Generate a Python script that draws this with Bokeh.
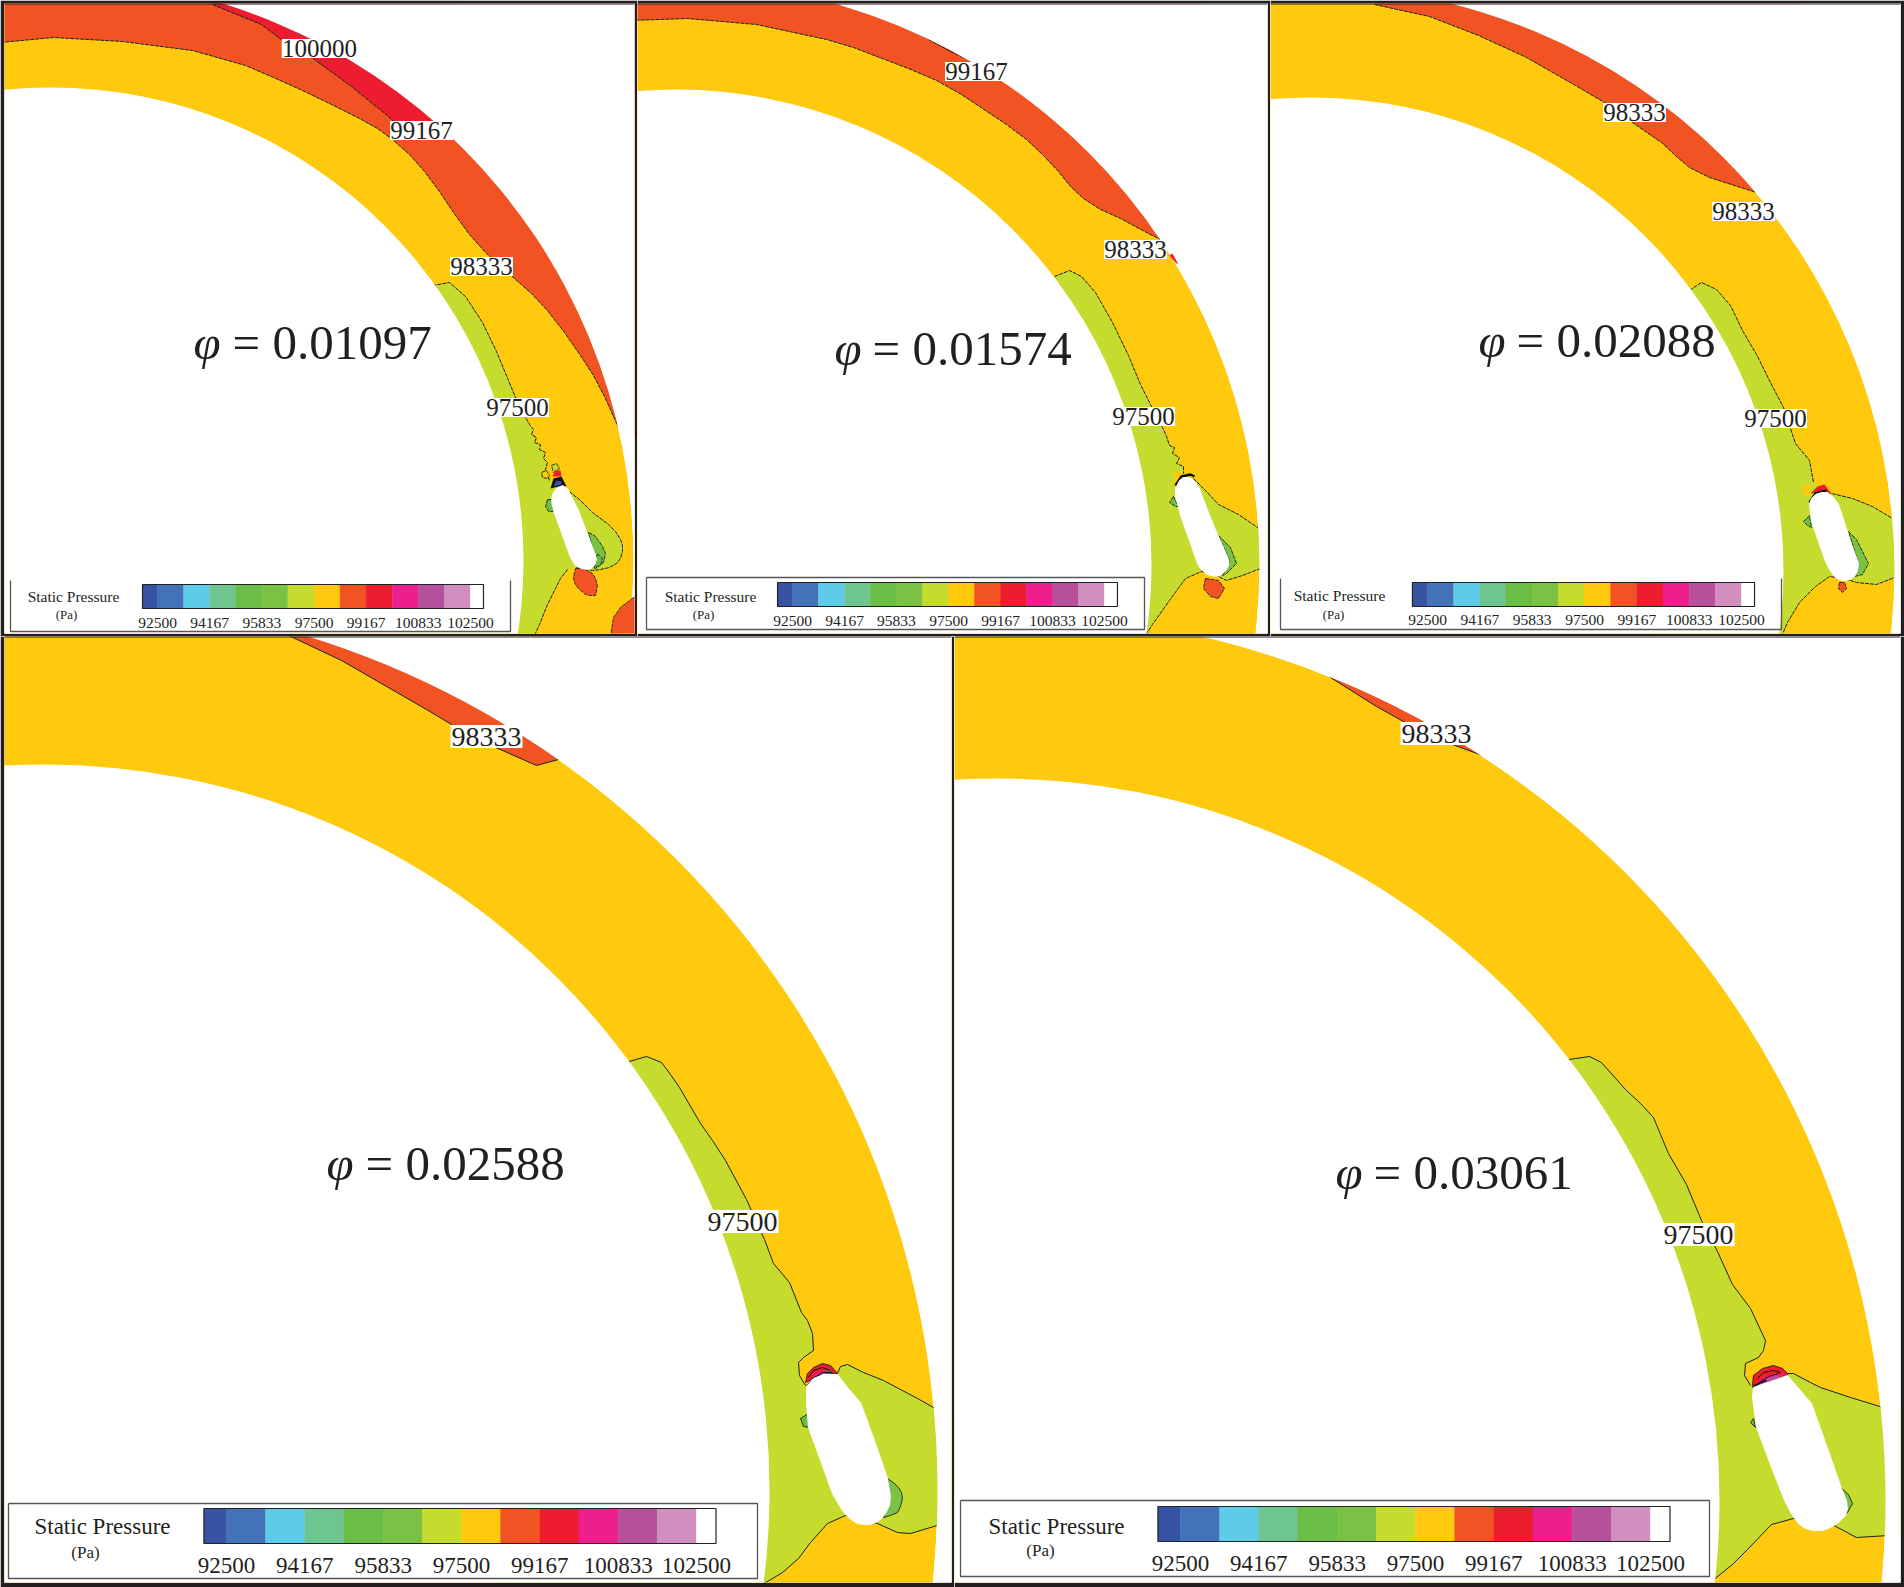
from bokeh.plotting import figure
from bokeh.layouts import column, row
from bokeh.embed import file_html
from bokeh.resources import INLINE
from bokeh.core.properties import value
from bokeh.models import Range1d

# ---------- colour bar ----------
LEVELS = [92021, 92500, 93333, 94167, 95000, 95833, 96667, 97500, 98333,
          99167, 100000, 100833, 101667, 102500, 102915]
BAND_COLORS = ["#3853A4", "#4472B8", "#5ECBE8", "#6FC58F", "#6ABD45", "#7BC143", "#C5DB2E",
               "#FFC90D", "#F15323", "#ED1C2E", "#ED1F8F", "#B64F9C", "#D18FC0", "#FFFFFF"]
TICK_LEVELS = [92500, 94167, 95833, 97500, 99167, 100833, 102500]
TICK_LABELS = ["92500", "94167", "95833", "97500", "99167", "100833", "102500"]

YELLOW, GREEN, ORANGE, RED, MAGENTA, PURPLE = "#FFC90D", "#C5DB2E", "#F15323", "#ED1C2E", "#ED1F8F", "#B64F9C"
MIDGREEN, DARKGREEN, INK = "#7BC143", "#6ABD45", "#231F20"

# ---------- panel 1 : phi = 0.01097 ----------
P1_PHI = "= 0.01097"
P1_RING = (50, 560, 473, 583)
P1_ORANGE_LINE = [(0,42),(53,37),(122,41),(192,50),(245,65),(273,77),(302,90),(331,104),(359,118),(377,128),(392,139),(409,154),(424,171),(439,191),(453,212),(469,234),(486,253),(500,266),(514,278),(531,293),(547,310),(564,332),(580,355),(593,375),(604,396),(618,427),(622,436)]
P1_ORANGE_CLOSE = [(700,436),(700,-10),(0,-10)]
P1_RED_LINE = [(212,4),(261,24),(286,43),(314,59),(351,86),(388,116),(398,126)]
P1_RED_CLOSE = [(460,126),(460,-10),(212,-10)]
P1_G_TOP = [(432,285),(449,282),(465,296),(482,322),(496,351),(508,380),(518,404),(529,424),(533,429),(531,434),(536,437),(534,442),(540,444),(539,449),(545,452),(543,458),(547,462),(545,469),(549,480)]
P1_G_RIGHT = [(565,488),(580,500),(592,512),(608,524),(615,531),(620,539),(622,545),(622,551),(620,558),(616,563),(609,567),(600,569),(592,570),(584,569),(576,567)]
P1_G_OUT = []
P1_G_BOTTOM = [(567,569),(560,578),(555,588),(547,604),(539,624),(533,637)]
P1_G_CLOSE = [(400,640),(400,285)]
P1_CAPSULE = [(551,501),(552,494),(556,488),(562,485),(567,488),(572,498),(578,510),(586,531),(594,552),(596,558),(595,563),(592,567),(588,569),(581,568),(575,565),(570,557),(561,532),(553,510)]
P1_PATCHES = [
    (ORANGE, [(575,568),(583,568),(592,573),(595,578),(597,585),(595,595),(590,595),(585,594),(577,587),(574,582),(573,577)], True),
    (ORANGE, [(633,597),(620,607),(613,617),(610,636),(640,636),(640,595)], True),
    (MIDGREEN, [(588,532),(594,535),(598,540),(602,546),(605,553),(603,562),(595,568),(592,567),(594,555)], True),
    (DARKGREEN, [(597,553),(602,558),(600,565),(594,567)], True),
    (DARKGREEN, [(547,499),(545,506),(548,511),(553,511),(551,499)], True),
    (YELLOW, [(541,472),(546,470),(549,475),(547,478),(542,477)], True),
    (GREEN, [(551,465),(556,463),(559,468),(553,472)], True),
    ("#111111", [(550,488),(553,478),(561,476),(566,486),(558,486)], False),
    (RED, [(552,476),(555,470),(560,470),(561,476)], False),
    ("#3853A4", [(553,486),(556,480),(561,481),(561,484)], False),
]
P1_LABELS = [("100000",319,48),("99167",421,130),("98333",481,266),("97500",517,407)]
P1_TEXT_POS = (193, 232, 342)
P1_LEGEND = dict(tx0=157, tx1=470, top=584, bot=608, fx0=10, fx1=510, fy0=580, fy1=631, open_top=True,
                 lab_y=622, fs=15.5, title=(73,596), unit=(66,614), tsz=15.5, usz=13)

# ---------- panel 2 : phi = 0.01574 ----------
P2_PHI = "= 0.01574"
P2_RING = (675, 565, 476, 584)
P2_ORANGE_LINE = [(630,20),(687,18),(756,24),(826,39),(853,47),(879,57),(908,68),(936,80),(961,94),(985,110),(1006,124),(1026,139),(1043,155),(1058,171),(1070,186),(1083,198),(1100,209),(1120,218),(1148,233),(1162,240)]
P2_ORANGE_CLOSE = [(1200,240),(1200,-10),(630,-10)]
P2_RED_LINE = [(928,39),(950,51),(965,58),(975,65)]
P2_RED_CLOSE = [(990,65),(990,39)]
P2_G_TOP = [(1054,276),(1069,270),(1081,276),(1095,292),(1112,322),(1128,355),(1140,384),(1150,404),(1163,429),(1166,436),(1169,445),(1174,447),(1172,453),(1179,457),(1176,463),(1183,466),(1183,473)]
P2_G_RIGHT = [(1193,478),(1205,490),(1218,504),(1238,514),(1260,529)]
P2_G_OUT = [(1300,529),(1300,568)]
P2_G_BOTTOM = [(1260,568),(1242,575),(1226,580),(1218,576),(1201,571),(1185,578),(1169,600),(1152,624),(1144,636)]
P2_G_CLOSE = [(1000,640),(1000,276)]
P2_CAPSULE = [(1175,496),(1175,488),(1179,480),(1183,477),(1187,477),(1191,478),(1195,482),(1199,488),(1206,507),(1214,527),(1228,559),(1228,565),(1226,569),(1221,574),(1216,576),(1210,575),(1205,573),(1200,568),(1197,563),(1189,540),(1181,518)]
P2_PATCHES = [
    (ORANGE, [(1205,578),(1218,580),(1224,588),(1218,598),(1210,596),(1203,588)], True),
    (MIDGREEN, [(1218,535),(1230,547),(1236,563),(1226,573),(1222,575),(1229,560)], True),
    (DARKGREEN, [(1173,496),(1169,502),(1175,506),(1178,506)], True),
    (YELLOW, [(1173,472),(1183,470),(1180,478),(1174,484)], False),
    (RED, [(1169,255),(1172,253),(1178,264),(1175,262)], False),
]
P2_LABELS = [("99167",976,71),("98333",1135,249),("97500",1143,416)]
P2_TEXT_POS = (834, 872, 348)
P2_LEGEND = dict(tx0=792, tx1=1104, top=582, bot=606, fx0=646, fx1=1144, fy0=577, fy1=629, open_top=False,
                 lab_y=620, fs=15.5, title=(710,596), unit=(703,614), tsz=15.5, usz=13)
P2_HEAD_LINES = [([(1175,485),(1181,476),(1190,474),(1194,476)], 2.5)]

# ---------- panel 3 : phi = 0.02088 ----------
P3_PHI = "= 0.02088"
P3_RING = (1310, 570, 473, 584)
P3_ORANGE_LINE = [(1374,4),(1429,16),(1478,35),(1526,57),(1575,85),(1604,102),(1632,122),(1661,142),(1676,156),(1689,167),(1709,177),(1734,185),(1756,192)]
P3_ORANGE_CLOSE = [(1800,192),(1800,-10),(1374,-10)]
P3_G_TOP = [(1689,290),(1701,282),(1716,289),(1730,305),(1742,330),(1756,354),(1770,382),(1783,407),(1795,443),(1809,460),(1813,482)]
P3_G_RIGHT = [(1827,492),(1852,498),(1872,506),(1897,521)]
P3_G_OUT = [(1950,521),(1950,576)]
P3_G_BOTTOM = [(1897,576),(1876,584),(1856,582),(1844,578),(1829,576),(1815,586),(1799,602),(1787,622),(1781,636)]
P3_G_CLOSE = [(1650,640),(1650,290)]
P3_CAPSULE = [(1809,504),(1811,498),(1815,494),(1821,492),(1827,492),(1833,497),(1838,504),(1844,522),(1850,541),(1858,563),(1857,570),(1854,576),(1849,579),(1844,580),(1838,579),(1834,576),(1829,569),(1825,561),(1818,541),(1811,521)]
P3_PATCHES = [
    (MIDGREEN, [(1848,531),(1856,539),(1868,563),(1862,574),(1854,576),(1858,563)], True),
    (DARKGREEN, [(1803,521),(1809,515),(1811,527),(1807,525)], True),
    (ORANGE, [(1839,582),(1844,582),(1846,588),(1842,592),(1838,588)], True),
    (YELLOW, [(1803,484),(1810,484),(1812,490),(1808,497),(1802,492)], False),
    (RED, [(1810,493),(1817,486),(1824,484),(1830,492),(1818,492)], False),
]
P3_LABELS = [("98333",1634,112),("98333",1743,211),("97500",1775,418)]
P3_TEXT_POS = (1478, 1516, 340)
P3_LEGEND = dict(tx0=1427, tx1=1741, top=582, bot=606, fx0=1280, fx1=1781, fy0=578, fy1=629, open_top=True,
                 lab_y=619, fs=15.5, title=(1339,595), unit=(1333,614), tsz=15.5, usz=13)
P3_HEAD_LINES = [([(1809,502),(1815,493),(1826,490)], 2.5)]

# ---------- panel 4 : phi = 0.02588 ----------
P4_PHI = "= 0.02588"
P4_RING = (43, 1490, 726, 894)
P4_ORANGE_LINE = [(286,634),(341,660),(426,709),(451,724),(493,746),(536,765),(558,759)]
P4_ORANGE_CLOSE = [(600,759),(600,600),(286,600)]
P4_G_TOP = [(625,1062),(646,1056),(661,1062),(670,1074),(679,1087),(700,1123),(712,1140),(725,1160),(746,1199),(764,1239),(773,1263),(789,1282),(801,1312),(807,1320),(812,1333),(813,1350),(803,1357),(798,1362),(799,1375),(805,1385)]
P4_G_RIGHT = [(837,1373),(840,1366),(847,1364),(863,1372),(883,1380),(917,1398),(940,1411)]
P4_G_OUT = [(1000,1411),(1000,1524)]
P4_G_BOTTOM = [(940,1524),(910,1533),(897,1532),(877,1523),(845,1515),(827,1523),(810,1542),(798,1558),(782,1572),(762,1584)]
P4_G_CLOSE = [(500,1590),(500,1062)]
P4_CAPSULE = [(806,1386),(813,1378),(823,1374),(837,1374),(847,1387),(860,1402),(874,1440),(887,1478),(890,1495),(889,1505),(885,1513),(880,1519),(875,1522),(869,1524),(863,1524),(857,1523),(852,1520),(847,1516),(842,1510),(837,1502),(832,1493),(820,1460),(808,1427),(806,1403)]
P4_PATCHES = [
    (MIDGREEN, [(887,1478),(894,1483),(898,1487),(901,1492),(902,1498),(900,1506),(897,1512),(890,1515),(883,1517),(890,1495)], True),
    (DARKGREEN, [(808,1413),(800,1418),(803,1426),(809,1427)], True),
    (RED, [(805,1382),(807,1373),(813,1367),(822,1363),(830,1365),(837,1373),(823,1374),(813,1378)], True),
    (MAGENTA, [(810,1380),(815,1373),(825,1370),(835,1372),(823,1374),(813,1378)], False),
    (PURPLE, [(807,1385),(813,1378),(823,1374),(830,1373),(818,1373),(810,1379)], False),
]
P4_LABELS = [("98333",486,736),("97500",742,1221)]
P4_TEXT_POS = (326, 365, 1163)
P4_LEGEND = dict(tx0=226, tx1=696, top=1508, bot=1543, fx0=8, fx1=757, fy0=1503, fy1=1578, open_top=False,
                 lab_y=1565, fs=23, title=(102,1526), unit=(85,1552), tsz=23, usz=17)
P4_HEAD_LINES = [([(808,1377),(813,1370),(822,1367),(830,1370)], 1), ([(812,1378),(822,1372),(832,1372)], 1),
                 ([(806,1386),(813,1378),(820,1375)], 1.8)]

# ---------- panel 5 : phi = 0.03061 ----------
P5_PHI = "= 0.03061"
P5_RING = (997, 1500, 722, 888)
P5_ORANGE_LINE = [(1330,677),(1376,706),(1403,721),(1452,744),(1482,755)]
P5_ORANGE_CLOSE = [(1500,750),(1400,640),(1330,640)]
P5_G_TOP = [(1568,1059),(1589,1056),(1601,1062),(1625,1089),(1640,1103),(1653,1117),(1660,1134),(1668,1153),(1686,1184),(1701,1220),(1717,1251),(1732,1284),(1750,1308),(1765,1340),(1763,1350),(1758,1357),(1745,1363),(1744,1375),(1750,1385)]
P5_G_RIGHT = [(1787,1373),(1793,1373),(1810,1382),(1820,1387),(1850,1397),(1886,1408)]
P5_G_OUT = [(1950,1408),(1950,1535)]
P5_G_BOTTOM = [(1888,1535),(1856,1537),(1826,1521),(1793,1518),(1771,1524),(1747,1549),(1732,1564),(1712,1580)]
P5_G_CLOSE = [(1400,1590),(1400,1059)]
P5_CAPSULE = [(1753,1387),(1770,1381),(1787,1375),(1811,1403),(1826,1445),(1841,1488),(1846,1500),(1847,1508),(1845,1515),(1838,1522),(1830,1527),(1822,1530),(1813,1530),(1805,1528),(1799,1524),(1792,1515),(1784,1500),(1770,1464),(1756,1427),(1752,1397)]
P5_PATCHES = [
    (MIDGREEN, [(1840,1487),(1848,1494),(1852,1503),(1847,1512),(1837,1521),(1847,1506)], True),
    (DARKGREEN, [(1753,1418),(1750,1422),(1755,1427)], True),
    (RED, [(1752,1385),(1753,1375),(1762,1368),(1773,1365),(1782,1368),(1787,1373),(1787,1375),(1770,1381)], True),
    (MAGENTA, [(1755,1384),(1762,1378),(1773,1374),(1785,1373),(1770,1381)], False),
    (PURPLE, [(1754,1386),(1763,1380),(1775,1375),(1780,1376),(1770,1381)], False),
]
P5_LABELS = [("98333",1436,733),("97500",1698,1234)]
P5_TEXT_POS = (1335, 1373, 1172)
P5_LEGEND = dict(tx0=1180, tx1=1650, top=1506, bot=1541, fx0=960, fx1=1709, fy0=1500, fy1=1576, open_top=False,
                 lab_y=1563, fs=23, title=(1056,1526), unit=(1040,1550), tsz=23, usz=17)
P5_HEAD_LINES = [([(1757,1378),(1763,1372),(1773,1370),(1780,1372)], 1), ([(1760,1381),(1768,1376),(1778,1373)], 1),
                 ([(1752,1387),(1760,1382),(1766,1380)], 1.8)]

SERIF = value("Liberation Serif")
BORDER = "#231F20"


def xs(pts):
    return [q[0] for q in pts]


def ys(pts):
    return [q[1] for q in pts]


def contour(p, pts, dash, width=1.0):
    if pts:
        p.line(xs(pts), ys(pts), line_color="#17231c", line_width=width, line_dash=dash)


def legend(p, L):
    scale = (L["tx1"] - L["tx0"]) / (TICK_LEVELS[-1] - TICK_LEVELS[0])
    pos = lambda v: L["tx0"] + (v - TICK_LEVELS[0]) * scale
    edges = [pos(v) for v in LEVELS]
    fr = [(L["fx0"], L["fy1"]), (L["fx1"], L["fy1"]), (L["fx1"], L["fy0"])]
    if L["open_top"]:
        fr = [(L["fx0"], L["fy0"])] + fr
    else:
        fr = [(L["fx0"], L["fy0"])] + fr + [(L["fx0"], L["fy0"])]
    p.line(xs(fr), ys(fr), line_color="#555555", line_width=1.3)
    p.quad(left=edges[:-1], right=edges[1:], top=[L["top"]] * 14, bottom=[L["bot"]] * 14,
           fill_color=BAND_COLORS, line_color=BAND_COLORS, line_width=0.5)
    p.quad(left=[edges[0]], right=[edges[-1]], top=[L["top"]], bottom=[L["bot"]],
           fill_alpha=0, line_color="#222222", line_width=1.2)
    p.text([pos(v) for v in TICK_LEVELS], [L["lab_y"]] * 7, text=TICK_LABELS, text_font=SERIF,
           text_font_size=f'{L["fs"]}px', text_align="center", text_baseline="middle", text_color=INK)
    p.text([L["title"][0]], [L["title"][1]], text=["Static Pressure"], text_font=SERIF,
           text_font_size=f'{L["tsz"]}px', text_align="center", text_baseline="middle", text_color=INK)
    p.text([L["unit"][0]], [L["unit"][1]], text=["(Pa)"], text_font=SERIF,
           text_font_size=f'{L["usz"]}px', text_align="center", text_baseline="middle", text_color=INK)


def panel(x0, x1, y0, y1, left, right, top, bottom, ring, orange, orange_close, red, red_close, g_top, g_right, g_out,
          g_bottom, g_close, capsule, patches, labels, text_pos, phi, leg, head_lines, dash, lab_fs, lab_w, lab_h):
    p = figure(width=x1 - x0 + left + right, height=y1 - y0 + top + bottom,
               x_range=Range1d(x0, x1), y_range=Range1d(y1, y0),
               output_backend="svg", toolbar_location=None, x_axis_location=None, y_axis_location=None,
               min_border_left=left, min_border_right=right, min_border_top=top, min_border_bottom=bottom,
               border_fill_color=BORDER, background_fill_color="#FFFFFF", outline_line_color=None)
    p.xgrid.visible = False
    p.ygrid.visible = False
    cx, cy, ri, ro = ring
    p.circle([cx], [cy], radius=ro, fill_color=YELLOW, line_color=None)
    green = g_top + g_right + g_out + g_bottom + g_close
    p.patch(xs(green), ys(green), fill_color=GREEN, line_color=None)
    ol = orange + orange_close
    p.patch(xs(ol), ys(ol), fill_color=ORANGE, line_color=None)
    if red:
        rl = red + red_close
        p.patch(xs(rl), ys(rl), fill_color=RED, line_color=None)
    contour(p, orange, dash)
    if red:
        contour(p, red, dash)
    contour(p, g_top, dash)
    contour(p, g_right, dash)
    contour(p, g_bottom, dash)
    p.annulus([cx], [cy], inner_radius=ro, outer_radius=3000, fill_color="#FFFFFF", line_color=None)
    p.circle([cx], [cy], radius=ri, fill_color="#FFFFFF", line_color=None)
    p.line([x0, x1], [y0, y0], line_color=BORDER, line_width=2)
    for color, pts, outlined in patches:
        p.patch(xs(pts), ys(pts), fill_color=color, line_color="#17231c" if outlined else None,
                line_width=0.9, line_dash=dash if outlined else "solid")
    for pts, w in head_lines:
        p.line(xs(pts), ys(pts), line_color="#111111", line_width=w)
    p.patch(xs(capsule), ys(capsule), fill_color="#FFFFFF", line_color="#FFFFFF", line_width=1)
    lab_x = [q[1] for q in labels]
    lab_y = [q[2] for q in labels]
    p.rect(lab_x, lab_y, width=[lab_w * len(q[0]) / 5 for q in labels], height=lab_h, fill_color="#FFFFFF", line_color=None)
    p.text(lab_x, lab_y, text=[q[0] for q in labels], text_font=SERIF, text_font_size=f"{lab_fs}px",
           text_align="center", text_baseline="middle", text_color=INK)
    px, qx, by = text_pos
    p.text([px], [by], text=["φ"], text_font=SERIF, text_font_style="italic", text_font_size="49px",
           text_align="left", text_baseline="middle", text_color=INK)
    p.text([qx], [by], text=[phi], text_font=SERIF, text_font_size="49px",
           text_align="left", text_baseline="middle", text_color=INK)
    legend(p, leg)
    return p


fig1 = panel(4, 634, 3, 633, 4, 3, 3, 3, P1_RING, P1_ORANGE_LINE, P1_ORANGE_CLOSE, P1_RED_LINE, P1_RED_CLOSE,
             P1_G_TOP, P1_G_RIGHT, P1_G_OUT, P1_G_BOTTOM, P1_G_CLOSE, P1_CAPSULE, P1_PATCHES, P1_LABELS,
             P1_TEXT_POS, P1_PHI, P1_LEGEND, [], "4 1", 25, 63, 19)
fig2 = panel(637, 1267, 3, 633, 0, 3, 3, 3, P2_RING, P2_ORANGE_LINE, P2_ORANGE_CLOSE, P2_RED_LINE, P2_RED_CLOSE,
             P2_G_TOP, P2_G_RIGHT, P2_G_OUT, P2_G_BOTTOM, P2_G_CLOSE, P2_CAPSULE, P2_PATCHES, P2_LABELS,
             P2_TEXT_POS, P2_PHI, P2_LEGEND, P2_HEAD_LINES, "4 1", 25, 63, 19)
fig3 = panel(1270, 1900, 3, 633, 0, 4, 3, 3, P3_RING, P3_ORANGE_LINE, P3_ORANGE_CLOSE, [], [],
             P3_G_TOP, P3_G_RIGHT, P3_G_OUT, P3_G_BOTTOM, P3_G_CLOSE, P3_CAPSULE, P3_PATCHES, P3_LABELS,
             P3_TEXT_POS, P3_PHI, P3_LEGEND, P3_HEAD_LINES, "4 1", 25, 63, 19)
fig4 = panel(4, 951, 636, 1582, 4, 3, 0, 5, P4_RING, P4_ORANGE_LINE, P4_ORANGE_CLOSE, [], [],
             P4_G_TOP, P4_G_RIGHT, P4_G_OUT, P4_G_BOTTOM, P4_G_CLOSE, P4_CAPSULE, P4_PATCHES, P4_LABELS,
             P4_TEXT_POS, P4_PHI, P4_LEGEND, P4_HEAD_LINES, "solid", 28, 72, 23)
fig5 = panel(954, 1900, 636, 1582, 0, 4, 0, 5, P5_RING, P5_ORANGE_LINE, P5_ORANGE_CLOSE, [], [],
             P5_G_TOP, P5_G_RIGHT, P5_G_OUT, P5_G_BOTTOM, P5_G_CLOSE, P5_CAPSULE, P5_PATCHES, P5_LABELS,
             P5_TEXT_POS, P5_PHI, P5_LEGEND, P5_HEAD_LINES, "solid", 28, 72, 23)

page = column(row(fig1, fig2, fig3, spacing=0), row(fig4, fig5, spacing=0), spacing=0)
open("out.html", "w").write(file_html(page, INLINE))
